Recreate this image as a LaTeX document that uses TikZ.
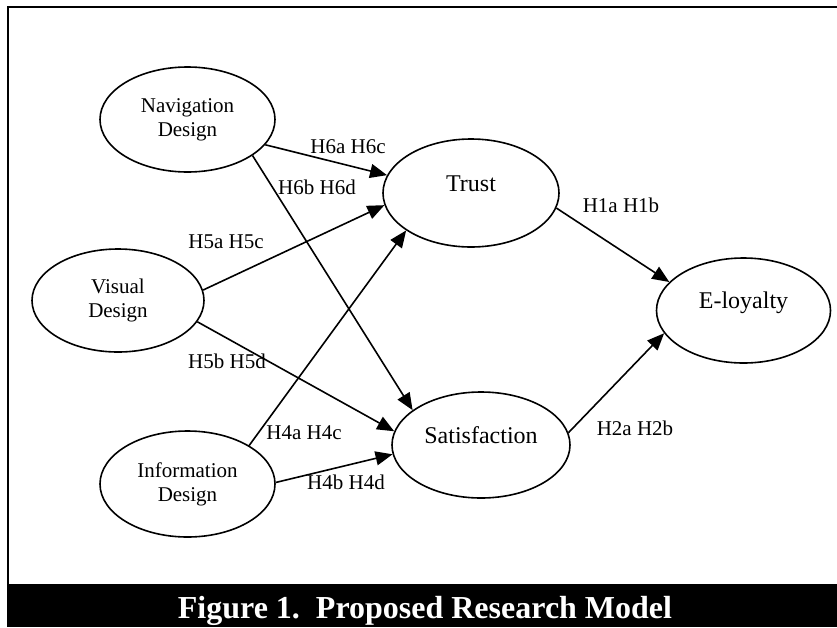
\documentclass[tikz,border=0pt]{standalone}
\usepackage{fontspec}
\setmainfont{Liberation Serif}
\usetikzlibrary{arrows.meta,shapes.geometric}
\begin{document}
\begin{tikzpicture}[x=1pt,y=-1pt,
  construct/.style={draw,ellipse,line width=1.6pt,inner sep=0pt,align=center,
    font=\fontsize{21}{24}\selectfont},
  outcome/.style={construct,font=\fontsize{24}{27}\selectfont,text height=0pt,text depth=4pt},
  hyp/.style={anchor=base,font=\fontsize{21}{24}\selectfont},
  link/.style={line width=1.6pt,-{Triangle[length=17pt,width=14pt]}}]
\useasboundingbox (0,0) rectangle (837,627);
\draw[line width=2.2pt] (8,584) -- (8,7) -- (837,7);
\node[construct,minimum width=175pt,minimum height=105pt] (nav) at (187.5,119.5) {Navigation\\Design};
\node[construct,minimum width=172pt,minimum height=103pt] (vis) at (118,300.5) {Visual\\Design};
\node[construct,minimum width=175pt,minimum height=106pt] (info) at (187.5,484) {Information\\Design};
\node[outcome,minimum width=176pt,minimum height=108pt] (trust) at (471,193) {Trust};
\node[outcome,minimum width=178pt,minimum height=106pt] (sat) at (481,445) {Satisfaction};
\node[outcome,minimum width=174pt,minimum height=105pt] (eloy) at (743.5,310.5) {E-loyalty};
\draw[link] (nav.-18) -- (trust.168);
\draw[link] (nav.-29) -- (sat.153);
\draw[link] (vis.7) -- (trust.188);
\draw[link] (vis.-15) -- (sat.171);
\draw[link] (info.32) -- (trust.210);
\draw[link] (info.1) -- (sat.186);
\draw[link] (trust.-10) -- (eloy.159);
\draw[link] (sat.8) -- (eloy.196);
\node[hyp] (h6ac) at (348,153) {H6a H6c};
\node[hyp] (h6bd) at (317,194) {H6b H6d};
\node[hyp] (h5ac) at (226,248) {H5a H5c};
\node[hyp] (h5bd) at (227,368) {H5b H5d};
\node[hyp] (h4ac) at (304,439) {H4a H4c};
\node[hyp] (h4bd) at (346,489) {H4b H4d};
\node[hyp] (h1ab) at (621,212) {H1a H1b};
\node[hyp] (h2ab) at (635,435) {H2a H2b};
\fill (7,584) rectangle (837,627);
\node[anchor=base,text=white,font=\bfseries\fontsize{32}{36}\selectfont] (caption) at (425,618) {Figure 1.\ \ Proposed Research Model};
\end{tikzpicture}
\end{document}
